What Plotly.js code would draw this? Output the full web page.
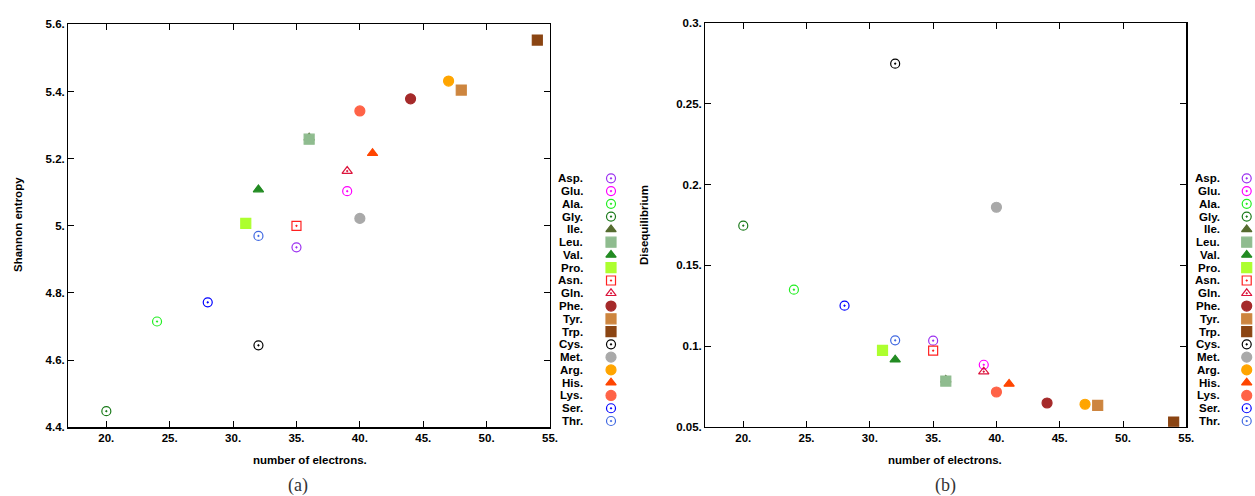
<!DOCTYPE html>
<html>
<head>
<meta charset="utf-8">
<script src="https://cdn.plot.ly/plotly-3.0.1.min.js"></script>
<style>html,body{margin:0;padding:0;background:#fff;}#chart{width:1255px;height:496px;}</style>
</head>
<body>
<div id="chart"></div>
<script>
// ---- data ----
const names = ['Asp.','Glu.','Ala.','Gly.','Ile.','Leu.','Val.','Pro.','Asn.','Gln.','Phe.','Tyr.','Trp.','Cys.','Met.','Arg.','His.','Lys.','Ser.','Thr.'];
const electrons = [35,39,24,20,36,36,32,31,35,39,44,48,54,32,40,47,41,40,28,32];
const entropy = [4.936,5.103,4.715,4.448,5.262,5.258,5.108,5.007,5.000,5.163,5.378,5.404,5.553,4.644,5.022,5.431,5.216,5.342,4.772,4.970];
const disequilibrium = [0.1033,0.0884,0.1349,0.1746,0.0790,0.0783,0.0915,0.0973,0.0971,0.0841,0.0647,0.0632,0.0529,0.2750,0.1860,0.0639,0.0765,0.0715,0.1250,0.1035];
const xTickVals = [20,25,30,35,40,45,50,55];
const xTickText = ['20.','25.','30.','35.','40.','45.','50.','55.'];
const yTickValsA = [4.4,4.6,4.8,5.0,5.2,5.4,5.6];
const yTickTextA = ['4.4.','4.6.','4.8.','5.','5.2.','5.4.','5.6.'];
const yTickValsB = [0.05,0.1,0.15,0.2,0.25,0.3];
const yTickTextB = ['0.05.','0.1.','0.15.','0.2.','0.25.','0.3.'];

// ---- styles ----
const symbols = ['circle-open-dot','circle-open-dot','circle-open-dot','circle-open-dot','triangle-up','square','triangle-up','square','square-open-dot','triangle-up-open-dot','circle','square','square','circle-open-dot','circle','circle','triangle-up','circle','circle-open-dot','circle-open-dot'];
const colors = ['#9b30f0','#ff00ff','#22ee22','#1a7a1a','#556b2f','#8fbc8f','#228b22','#adff2f','#ff2020','#dc143c','#a52a2a','#cd853f','#8b4513','#000000','#a9a9a9','#ffa500','#ff4500','#ff6347','#0000ff','#4169e1'];
const sizeFor = s => s.indexOf('open') >= 0 ? 9 : (s.indexOf('triangle')>=0 ? 9 : 10);

const W = 1255, H = 496;
const px = v => v / W, py = v => 1 - v / H;

const traces = [];
names.forEach((n, i) => {
  const marker = {symbol: symbols[i], color: colors[i], size: sizeFor(symbols[i]), line: {color: colors[i], width: 1.2}};
  traces.push({type:'scatter', mode:'markers', x:[electrons[i]], y:[entropy[i]], xaxis:'x', yaxis:'y', marker, name:n, showlegend:false, hoverinfo:'skip'});
  traces.push({type:'scatter', mode:'markers', x:[electrons[i]], y:[disequilibrium[i]], xaxis:'x2', yaxis:'y2', marker, name:n, showlegend:false, hoverinfo:'skip'});
  traces.push({type:'scatter', mode:'markers', x:[0], y:[i], xaxis:'x3', yaxis:'y3', marker, name:n, showlegend:false, hoverinfo:'skip'});
  traces.push({type:'scatter', mode:'markers', x:[0], y:[i], xaxis:'x4', yaxis:'y4', marker, name:n, showlegend:false, hoverinfo:'skip'});
});

const font = {family:'Liberation Sans, Arial, sans-serif', size:11.5, color:'#000', weight:'bold'};
const axBase = {showgrid:false, zeroline:false, showline:true, mirror:'ticks', linecolor:'#000', linewidth:1.2,
  ticks:'inside', ticklen:6, tickwidth:1, tickcolor:'#000', tickfont:font, fixedrange:true};

const legAx = {showgrid:false, zeroline:false, showline:false, showticklabels:false, ticks:'', fixedrange:true};

const annotations = [];
names.forEach((n, i) => {
  annotations.push({xref:'x3', yref:'y3', x:0, y:i, text:n, showarrow:false, xanchor:'right', yanchor:'middle', xshift:-26, font});
  annotations.push({xref:'x4', yref:'y4', x:0, y:i, text:n, showarrow:false, xanchor:'right', yanchor:'middle', xshift:-25, font});
});
annotations.push({xref:'paper', yref:'paper', x:px(18), y:py(225), text:'Shannon entropy', textangle:-90, showarrow:false, xanchor:'center', yanchor:'middle', font});
annotations.push({xref:'paper', yref:'paper', x:px(644), y:py(225), text:'Disequilibrium', textangle:-90, showarrow:false, xanchor:'center', yanchor:'middle', font});
annotations.push({xref:'paper', yref:'paper', x:px(310), y:py(460), text:'number of electrons.', showarrow:false, xanchor:'center', yanchor:'middle', font});
annotations.push({xref:'paper', yref:'paper', x:px(945.5), y:py(460), text:'number of electrons.', showarrow:false, xanchor:'center', yanchor:'middle', font});
const capFont = {family:'Liberation Serif, DejaVu Serif, serif', size:18, color:'#333', weight:'normal'};
annotations.push({xref:'paper', yref:'paper', x:px(297.5), y:py(485), text:'(a)', showarrow:false, xanchor:'center', yanchor:'middle', font:capFont});
annotations.push({xref:'paper', yref:'paper', x:px(945), y:py(485), text:'(b)', showarrow:false, xanchor:'center', yanchor:'middle', font:capFont});

const layout = {
  width: W, height: H, margin:{l:0,r:0,t:0,b:0}, paper_bgcolor:'#fff', plot_bgcolor:'#fff', showlegend:false,
  font,
  xaxis: Object.assign({}, axBase, {domain:[px(68.3), px(550)], range:[17,55], tickvals:xTickVals, ticktext:xTickText, anchor:'y'}),
  yaxis: Object.assign({}, axBase, {domain:[py(427.3), py(24.3)], range:[4.4,5.6], tickvals:yTickValsA, ticktext:yTickTextA, anchor:'x'}),
  xaxis2: Object.assign({}, axBase, {domain:[px(705.3), px(1186.3)], range:[17,55], tickvals:xTickVals, ticktext:xTickText, anchor:'y2'}),
  yaxis2: Object.assign({}, axBase, {domain:[py(426.7), py(23.3)], range:[0.05,0.3], tickvals:yTickValsB, ticktext:yTickTextB, anchor:'x2'}),
  xaxis3: Object.assign({}, legAx, {domain:[px(590.3), px(619.3)], range:[-1,0.4], anchor:'y3'}),
  yaxis3: Object.assign({}, legAx, {domain:[py(427.4), py(171.9)], range:[19.5,-0.5], anchor:'x3'}),
  xaxis4: Object.assign({}, legAx, {domain:[px(1226), px(1255)], range:[-1,0.4], anchor:'y4'}),
  yaxis4: Object.assign({}, legAx, {domain:[py(427.4), py(171.9)], range:[19.5,-0.5], anchor:'x4'}),
  annotations
};

Plotly.newPlot('chart', traces, layout, {staticPlot:true, displayModeBar:false});
</script>
</body>
</html>
